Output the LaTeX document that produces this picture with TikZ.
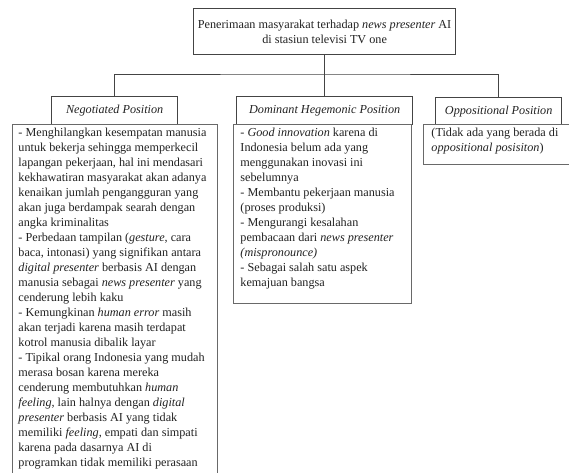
\documentclass[tikz,border=0pt]{standalone}
\usepackage{fontspec}
\setmainfont{Liberation Serif}
\definecolor{ink}{HTML}{222222}
\definecolor{edge}{HTML}{444444}
\tikzset{
  hdrbox/.style={draw=edge, line width=1.3pt, anchor=north west, inner sep=0pt, align=center, font=\itshape},
  topbox/.style={draw=edge, line width=1.2pt, anchor=north west, inner sep=0pt, align=center},
  contbox/.style={draw=edge!80, line width=0.9pt, anchor=north west, inner xsep=6pt, inner ysep=4pt},
  link/.style={draw=edge, line width=0.9pt}
}
\newcommand{\txtsize}{\fontsize{12.2}{15}\selectfont}
\begin{document}
\begin{tikzpicture}[x=1pt,y=-1pt, text=ink, every node/.append style={font=\txtsize}]
\useasboundingbox[fill=white] (0,0) rectangle (569,472);
\clip (0,0) rectangle (569,472);

\node[topbox, minimum width=262pt, minimum height=46pt] (top) at (193,8)
  {Penerimaan masyarakat terhadap \textit{news presenter} AI\\ di stasiun televisi TV one};

\node[hdrbox, minimum width=126pt, minimum height=28pt, font=\txtsize\itshape] (negh) at (51,96) {Negotiated Position};
\node[hdrbox, minimum width=176pt, minimum height=28pt, font=\txtsize\itshape] (domh) at (236,96) {Dominant Hegemonic Position};
\node[hdrbox, minimum width=126pt, minimum height=27pt, font=\txtsize\itshape] (opph) at (435,97) {Oppositional Position};

\coordinate (bar) at (324,74);
\draw[link] (top.south) -- (top.south |- domh.north);
\draw[link] (negh.north) |- (bar) -| (opph.north);

\node[contbox] (negc) at (12,124) {\parbox[c][358pt][t]{193pt}{\raggedright
- Menghilangkan kesempatan manusia\\
untuk bekerja sehingga memperkecil\\
lapangan pekerjaan, hal ini mendasari\\
kekhawatiran masyarakat akan adanya\\
kenaikan jumlah pengangguran yang\\
akan juga berdampak searah dengan\\
angka kriminalitas\\
- Perbedaan tampilan (\textit{gesture}, cara\\
baca, intonasi) yang signifikan antara\\
\textit{digital presenter} berbasis AI dengan\\
manusia sebagai \textit{news presenter} yang\\
cenderung lebih kaku\\
- Kemungkinan \textit{human error} masih\\
akan terjadi karena masih terdapat\\
kotrol manusia dibalik layar\\
- Tipikal orang Indonesia yang mudah\\
merasa bosan karena mereka\\
cenderung membutuhkan \textit{human}\\
\textit{feeling}, lain halnya dengan \textit{digital}\\
\textit{presenter} berbasis AI yang tidak\\
memiliki \textit{feeling}, empati dan simpati\\
karena pada dasarnya AI di\\
programkan tidak memiliki perasaan}};

\node[contbox, inner xsep=7pt] (domc) at (233,124) {\parbox[c][171pt][t]{164pt}{\raggedright
- \textit{Good innovation} karena di\\
Indonesia belum ada yang\\
menggunakan inovasi ini\\
sebelumnya\\
- Membantu pekerjaan manusia\\
(proses produksi)\\
- Mengurangi kesalahan\\
pembacaan dari \textit{news presenter}\\
\textit{(mispronounce)}\\
- Sebagai salah satu aspek\\
kemajuan bangsa}};

\node[contbox, inner xsep=8pt] (oppc) at (423,124) {\parbox[c][32pt][t]{150pt}{\raggedright
(Tidak ada yang berada di\\
\textit{oppositional posisiton})}};
\end{tikzpicture}
\end{document}
